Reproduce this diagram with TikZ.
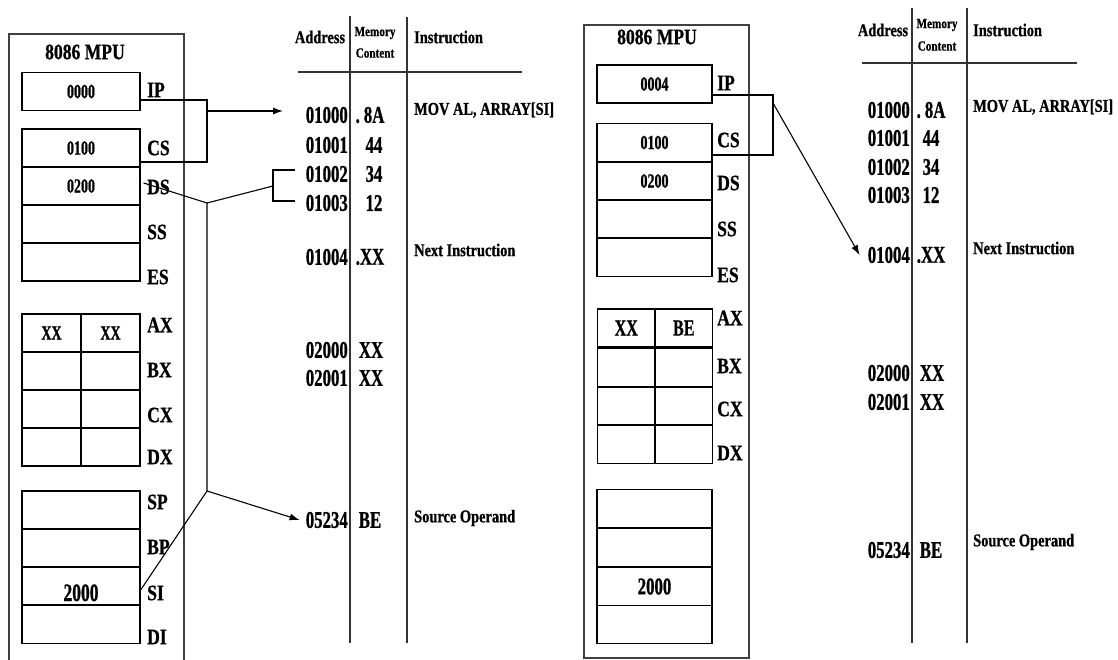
\documentclass[tikz,border=0pt]{standalone}
\usepackage{fontspec}
\newfontfamily\tnr[FakeStretch=0.8, FakeBold=0.8]{Liberation Serif}
\newfontfamily\tnrn[FakeStretch=0.7, FakeBold=0.8]{Liberation Serif}
\usepackage{tikz}
\usetikzlibrary{arrows.meta}

\newcommand\fsz[1]{\fontsize{#1}{#1}\selectfont}

\tikzset{
 reg/.style={draw, line width=1.3pt, inner sep=0pt, minimum width=118pt, minimum height=38pt, font=\tnrn\bfseries\fsz{20}},
 half/.style={reg, minimum width=59pt},
 rname/.style={anchor=west, inner sep=0pt, font=\tnr\bfseries\fsz{22}},
 addr/.style={anchor=east, inner sep=0pt, font=\tnrn\bfseries\fsz{24}},
 cont/.style={inner sep=0pt, font=\tnrn\bfseries\fsz{24}},
 instr/.style={anchor=west, inner sep=0pt, font=\tnr\bfseries\fsz{18}},
 head/.style={inner sep=0pt, font=\tnr\bfseries\fsz{18}},
 small/.style={inner sep=0pt, font=\tnr\bfseries\fsz{14}},
 frame/.style={draw=black!75, line width=1.1pt},
 tline/.style={draw=black!80, line width=1.1pt},
 wire/.style={draw, line width=1.1pt},
 tip/.style={-{Latex[length=10pt,width=7pt]}}
}

\begin{document}
\begin{tikzpicture}[x=1pt,y=-1pt]
\useasboundingbox (0,0) rectangle (1118,660);

% left: MPU before
\draw[frame] (9,665) -- (9,34) -- (184,34) -- (184,665);
\node[head,font=\tnr\bfseries\fsz{22}] (mpuL) at (85,52) {8086 MPU};

\node[reg] (ipL) at (81,91.5) {0000};
\node[reg] (csL) at (81,148) {0100};
\node[reg] (dsL) at (81,186) {0200};
\node[reg] (ssL) at (81,224) {};
\node[reg] (esL) at (81,262) {};

\node[half] (ahL) at (51.5,333) {XX};
\node[half] (alL) at (110.5,333) {XX};
\node[half] (bhL) at (51.5,371) {};
\node[half] (blL) at (110.5,371) {};
\node[half] (chL) at (51.5,409) {};
\node[half] (clL) at (110.5,409) {};
\node[half] (dhL) at (51.5,447) {};
\node[half] (dlL) at (110.5,447) {};

\node[reg] (spL) at (81,510) {};
\node[reg] (bpL) at (81,548) {};
\node[reg,font=\tnrn\bfseries\fsz{25}] (siL) at (81,586) {\raisebox{-15pt}[0pt][0pt]{2000}};
\node[reg] (diL) at (81,624.5) {};

\node[rname] (nIPL) at (147,90) {IP};
\node[rname] (nCSL) at (147,148) {CS};
\node[rname] (nDSL) at (147,187) {DS};
\node[rname] (nSSL) at (147,232) {SS};
\node[rname] (nESL) at (147,277) {ES};
\node[rname] (nAXL) at (147,325) {AX};
\node[rname] (nBXL) at (147,370) {BX};
\node[rname] (nCXL) at (147,415) {CX};
\node[rname] (nDXL) at (147,457) {DX};
\node[rname] (nSPL) at (147,502) {SP};
\node[rname] (nBPL) at (147,547) {BP};
\node[rname] (nSIL) at (147,593) {SI};
\node[rname] (nDIL) at (147,637) {DI};

% left: memory
\draw[tline] (350,16) -- (350,643);
\draw[tline] (407,17) -- (407,643);
\draw[tline, line width=1.5pt] (298,72) -- (522,72);
\node[head] (hAddrL) at (320,37) {Address};
\node[small] (hMemL) at (375,33) {Memory};
\node[small] (hConL) at (375,53) {Content};
\node[head,anchor=west] (hInsL) at (414,37) {Instruction};

\node[addr] (a1000L) at (348,115) {01000};
\node[addr] (a1001L) at (348,145) {01001};
\node[addr] (a1002L) at (348,174) {01002};
\node[addr] (a1003L) at (348,203) {01003};
\node[addr] (a1004L) at (348,257) {01004};
\node[addr] (a2000L) at (348,350) {02000};
\node[addr] (a2001L) at (348,378) {02001};
\node[addr] (a5234L) at (348,520) {05234};

\node[cont] (c1000L) at (370,115) {.\,8A};
\node[cont] (c1001L) at (374,145) {44};
\node[cont] (c1002L) at (374,174) {34};
\node[cont] (c1003L) at (374,203) {12};
\node[cont] (c1004L) at (370,257) {.XX};
\node[cont] (c2000L) at (371,350) {XX};
\node[cont] (c2001L) at (371,378) {XX};
\node[cont] (c5234L) at (370,520) {BE};

\node[instr] (iMovL) at (414,110) {MOV AL, ARRAY[SI]};
\node[instr] (iNxtL) at (414,250) {Next Instruction};
\node[instr] (iSrcL) at (414,518) {Source Operand};

% left: connectors
\coordinate (segL) at (207,111);
\coordinate (tipL) at (283,111);
\coordinate (dsJ) at (207,203);
\coordinate (brL) at (273,186);
\coordinate (br1) at (295,170);
\coordinate (br2) at (295,201);
\coordinate (siJ) at (207,491);
\draw[wire] ([yshift=-8.5pt]ipL.east) -| (segL) |- ([yshift=-14pt]csL.east);
\draw[wire,tip] (segL) -- (tipL);
\draw[wire] ([xshift=3pt,yshift=3pt]dsL.east) -- (dsJ) -- (brL);
\draw[wire] (br1) -| (brL) |- (br2);
\draw[wire] (dsJ) -- (siJ) -- ([yshift=-4pt]siL.east);
\draw[wire,tip] (siJ) -- ([xshift=-6pt]a5234L.west);

% right: MPU after
\draw[frame] (584,25) rectangle (749,658);
\node[head,font=\tnr\bfseries\fsz{22}] (mpuR) at (657,37) {8086 MPU};

\node[reg,minimum width=115pt] (ipR) at (654.5,84) {0004};
\node[reg,minimum width=115pt] (csR) at (654.5,142.5) {0100};
\node[reg,minimum width=115pt] (dsR) at (654.5,181) {0200};
\node[reg,minimum width=115pt] (ssR) at (654.5,219) {};
\node[reg,minimum width=115pt] (esR) at (654.5,257.5) {};

\node[half,minimum width=57.5pt,font=\tnrn\bfseries\fsz{23}] (ahR) at (626.25,328) {XX};
\node[half,minimum width=57.5pt,font=\tnrn\bfseries\fsz{23}] (alR) at (683.75,328) {BE};
\node[half,minimum width=57.5pt] (bhR) at (626.25,367.5) {};
\node[half,minimum width=57.5pt] (blR) at (683.75,367.5) {};
\node[half,minimum width=57.5pt] (chR) at (626.25,406) {};
\node[half,minimum width=57.5pt] (clR) at (683.75,406) {};
\node[half,minimum width=57.5pt] (dhR) at (626.25,444.5) {};
\node[half,minimum width=57.5pt] (dlR) at (683.75,444.5) {};

\node[reg,minimum width=115pt] (spR) at (654.5,508.5) {};
\node[reg,minimum width=115pt] (bpR) at (654.5,547.5) {};
\node[reg,minimum width=115pt,font=\tnrn\bfseries\fsz{24}] (siR) at (654.5,586.5) {2000};
\node[reg,minimum width=115pt] (diR) at (654.5,624.5) {};

\node[rname] (nIPR) at (717,83) {IP};
\node[rname] (nCSR) at (717,140) {CS};
\node[rname] (nDSR) at (717,183) {DS};
\node[rname] (nSSR) at (717,229) {SS};
\node[rname] (nESR) at (717,275) {ES};
\node[rname] (nAXR) at (717,318) {AX};
\node[rname] (nBXR) at (717,366) {BX};
\node[rname] (nCXR) at (717,409) {CX};
\node[rname] (nDXR) at (717,453) {DX};

% right: memory
\draw[tline] (912,8) -- (912,643);
\draw[tline] (967,8) -- (967,643);
\draw[tline, line width=1.5pt] (862,63) -- (1077,63);
\node[head] (hAddrR) at (883,30) {Address};
\node[small] (hMemR) at (937,25) {Memory};
\node[small] (hConR) at (937,46) {Content};
\node[head,anchor=west] (hInsR) at (973,30) {Instruction};

\node[addr] (a1000R) at (910,110) {01000};
\node[addr] (a1001R) at (910,138) {01001};
\node[addr] (a1002R) at (910,167) {01002};
\node[addr] (a1003R) at (910,195) {01003};
\node[addr] (a1004R) at (910,255) {01004};
\node[addr] (a2000R) at (910,373) {02000};
\node[addr] (a2001R) at (910,402) {02001};
\node[addr] (a5234R) at (910,550) {05234};

\node[cont] (c1000R) at (931,110) {.\,8A};
\node[cont] (c1001R) at (931,138) {44};
\node[cont] (c1002R) at (931,167) {34};
\node[cont] (c1003R) at (931,195) {12};
\node[cont] (c1004R) at (931,255) {.XX};
\node[cont] (c2000R) at (932,373) {XX};
\node[cont] (c2001R) at (932,402) {XX};
\node[cont] (c5234R) at (931,550) {BE};

\node[instr] (iMovR) at (973,107) {MOV AL, ARRAY[SI]};
\node[instr] (iNxtR) at (973,248) {Next Instruction};
\node[instr] (iSrcR) at (973,542) {Source Operand};

% right: connectors
\coordinate (segR) at (773,103);
\draw[wire] ([yshift=-11pt]ipR.east) -| (segR) |- ([yshift=-12.5pt]csR.east);
\draw[wire,tip] (segR) -- ([xshift=-8pt]a1004R.west);
\end{tikzpicture}
\end{document}
